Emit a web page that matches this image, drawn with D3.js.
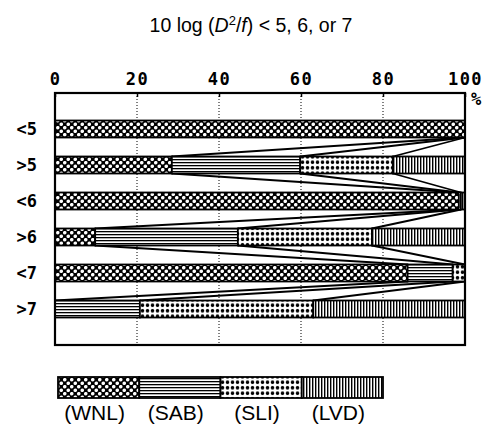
<!DOCTYPE html>
<html>
<head>
<meta charset="utf-8">
<script src="https://cdn.jsdelivr.net/npm/d3@7"></script>
<style>
  body { margin: 0; background: #fff; }
  .frame { display: block; }
</style>
</head>
<body>
<div id="chart"></div>
<script>
// define constant for frame and margin
const FRAME_HEIGHT = 427;
const FRAME_WIDTH = 485;
const MARGINS = {left: 55, right: 20, top: 93, bottom: 82};
const VIS_HEIGHT = FRAME_HEIGHT - MARGINS.top - MARGINS.bottom;
const VIS_WIDTH = FRAME_WIDTH - MARGINS.left - MARGINS.right;
const BAR_HEIGHT = 17;

// data (percent of each row)
const ROWS = ["<5", ">5", "<6", ">6", "<7", ">7"];
const CATEGORIES = ["WNL", "SAB", "SLI", "LVD"];
const WNL = [100, 28.5, 98.5, 9.8, 86, 0];
const SAB = [0, 31.3, 0, 34.8, 11, 20.7];
const SLI = [0, 22.6, 0.5, 32.7, 3, 42.3];
const LVD = [0, 17.6, 1, 22.7, 0, 37];
const X_TICKS = [0, 20, 40, 60, 80, 100];
const GRID_TICKS = [20, 40, 60, 80];

// build stacked rows from the series arrays
const table = ROWS.map((r, i) => ({row: r, WNL: WNL[i], SAB: SAB[i], SLI: SLI[i], LVD: LVD[i]}));
const stacked = d3.stack().keys(CATEGORIES)(table);

const FRAME = d3.select("#chart")
  .append("svg")
    .attr("width", FRAME_WIDTH)
    .attr("height", FRAME_HEIGHT)
    .attr("class", "frame");

// patterns for the four categories
const defs = FRAME.append("defs");

const pWNL = defs.append("pattern").attr("id", "pat-WNL")
  .attr("patternUnits", "userSpaceOnUse").attr("width", 7).attr("height", 7);
pWNL.append("rect").attr("width", 7).attr("height", 7).attr("fill", "#000");
pWNL.append("circle").attr("cx", 1.75).attr("cy", 1.75).attr("r", 1.8).attr("fill", "#fff");
pWNL.append("circle").attr("cx", 5.25).attr("cy", 5.25).attr("r", 1.8).attr("fill", "#fff");

const pSAB = defs.append("pattern").attr("id", "pat-SAB")
  .attr("patternUnits", "userSpaceOnUse").attr("width", 6).attr("height", 3);
pSAB.append("rect").attr("width", 6).attr("height", 3).attr("fill", "#fff");
pSAB.append("rect").attr("y", 0).attr("width", 6).attr("height", 1.3).attr("fill", "#000");

const pSLI = defs.append("pattern").attr("id", "pat-SLI")
  .attr("patternUnits", "userSpaceOnUse").attr("width", 5).attr("height", 5.5);
pSLI.append("rect").attr("width", 5).attr("height", 5.5).attr("fill", "#fff");
pSLI.append("circle").attr("cx", 2.5).attr("cy", 2.7).attr("r", 1.8).attr("fill", "#000");

const pLVD = defs.append("pattern").attr("id", "pat-LVD")
  .attr("patternUnits", "userSpaceOnUse").attr("width", 3).attr("height", 6);
pLVD.append("rect").attr("width", 3).attr("height", 6).attr("fill", "#fff");
pLVD.append("rect").attr("x", 0).attr("width", 1.4).attr("height", 6).attr("fill", "#000");

// scales
const xScale = d3.scaleLinear()
  .domain([0, 100])
  .range([MARGINS.left, MARGINS.left + VIS_WIDTH]);
const yScale = d3.scalePoint()
  .domain(ROWS)
  .range([MARGINS.top + 36, MARGINS.top + VIS_HEIGHT - 36]);

// title
const title = FRAME.append("text")
  .attr("x", 251)
  .attr("y", 32)
  .attr("text-anchor", "middle")
  .attr("font-family", "Liberation Sans, Arial, sans-serif")
  .attr("font-size", 19.5);
title.append("tspan").text("10 log (");
title.append("tspan").attr("font-style", "italic").text("D");
title.append("tspan").attr("font-size", 13).attr("dy", -7).text("2");
title.append("tspan").attr("dy", 7).text("/");
title.append("tspan").attr("font-style", "italic").text("f");
title.append("tspan").text(") < 5, 6, or 7");

// dotted grid lines
FRAME.selectAll(".grid")
  .data(GRID_TICKS)
  .enter()
  .append("line")
    .attr("x1", (d) => xScale(d))
    .attr("x2", (d) => xScale(d))
    .attr("y1", MARGINS.top)
    .attr("y2", MARGINS.top + VIS_HEIGHT)
    .attr("stroke", "#000")
    .attr("stroke-width", 1)
    .attr("stroke-dasharray", "1,2");

// connector lines between boundaries of neighbouring rows
const links = [];
for (let i = 0; i < ROWS.length - 1; i++) {
  for (let k = 0; k < CATEGORIES.length - 1; k++) {
    links.push({
      x1: stacked[k][i][1], r1: ROWS[i],
      x2: stacked[k][i + 1][1], r2: ROWS[i + 1]
    });
  }
}
FRAME.selectAll(".link")
  .data(links)
  .enter()
  .append("line")
    .attr("x1", (d) => xScale(d.x1))
    .attr("y1", (d) => yScale(d.r1) + BAR_HEIGHT / 2)
    .attr("x2", (d) => xScale(d.x2))
    .attr("y2", (d) => yScale(d.r2) - BAR_HEIGHT / 2)
    .attr("stroke", "#000")
    .attr("stroke-width", 1.8);

// stacked bars
FRAME.selectAll(".series")
  .data(stacked)
  .enter()
  .append("g")
    .attr("fill", (s) => "url(#pat-" + s.key + ")")
  .selectAll("rect")
  .data((s) => s.filter((d) => d[1] - d[0] > 0))
  .enter()
  .append("rect")
    .attr("x", (d) => xScale(d[0]))
    .attr("y", (d) => yScale(d.data.row) - BAR_HEIGHT / 2)
    .attr("width", (d) => xScale(d[1]) - xScale(d[0]))
    .attr("height", BAR_HEIGHT)
    .attr("stroke", "#000")
    .attr("stroke-width", 1.8);

// plot frame
FRAME.append("rect")
  .attr("x", MARGINS.left)
  .attr("y", MARGINS.top)
  .attr("width", VIS_WIDTH)
  .attr("height", VIS_HEIGHT)
  .attr("fill", "none")
  .attr("stroke", "#000")
  .attr("stroke-width", 2.2);

// top axis
const xAxis = FRAME.append("g")
  .attr("transform", "translate(0," + MARGINS.top + ")")
  .call(d3.axisTop(xScale).tickValues(X_TICKS).tickSizeInner(-4).tickSizeOuter(0).tickPadding(8));
xAxis.select(".domain").remove();
xAxis.selectAll("line").attr("stroke-width", 1.5);
xAxis.selectAll("text")
  .attr("font-family", "DejaVu Sans Mono, monospace")
  .attr("font-weight", "bold")
  .attr("font-size", 17)
  .attr("letter-spacing", 1.5)
  .attr("fill", "#000");

// percent sign
FRAME.append("text")
  .attr("x", 476)
  .attr("y", 105)
  .attr("text-anchor", "middle")
  .attr("font-family", "DejaVu Sans Mono, monospace")
  .attr("font-weight", "bold")
  .attr("font-size", 17)
  .text("%");

// row labels
FRAME.selectAll(".rowlabel")
  .data(ROWS)
  .enter()
  .append("text")
    .attr("x", 37)
    .attr("y", (d) => yScale(d) + 6)
    .attr("text-anchor", "end")
    .attr("font-family", "DejaVu Sans Mono, monospace")
    .attr("font-weight", "bold")
    .attr("font-size", 17)
    .text((d) => d);

// legend
const legendScale = d3.scaleBand()
  .domain(CATEGORIES)
  .range([58, 383]);

FRAME.selectAll(".legendbox")
  .data(CATEGORIES)
  .enter()
  .append("rect")
    .attr("x", (d) => legendScale(d))
    .attr("y", 377)
    .attr("width", legendScale.bandwidth())
    .attr("height", 21)
    .attr("fill", (d) => "url(#pat-" + d + ")")
    .attr("stroke", "#000")
    .attr("stroke-width", 1.8);

FRAME.selectAll(".legendlabel")
  .data(CATEGORIES)
  .enter()
  .append("text")
    .attr("x", (d) => legendScale(d) + legendScale.bandwidth() / 2 - 4)
    .attr("y", 420)
    .attr("text-anchor", "middle")
    .attr("font-family", "Liberation Sans, Arial, sans-serif")
    .attr("font-size", 21)
    .text((d) => "(" + d + ")");
</script>
</body>
</html>
